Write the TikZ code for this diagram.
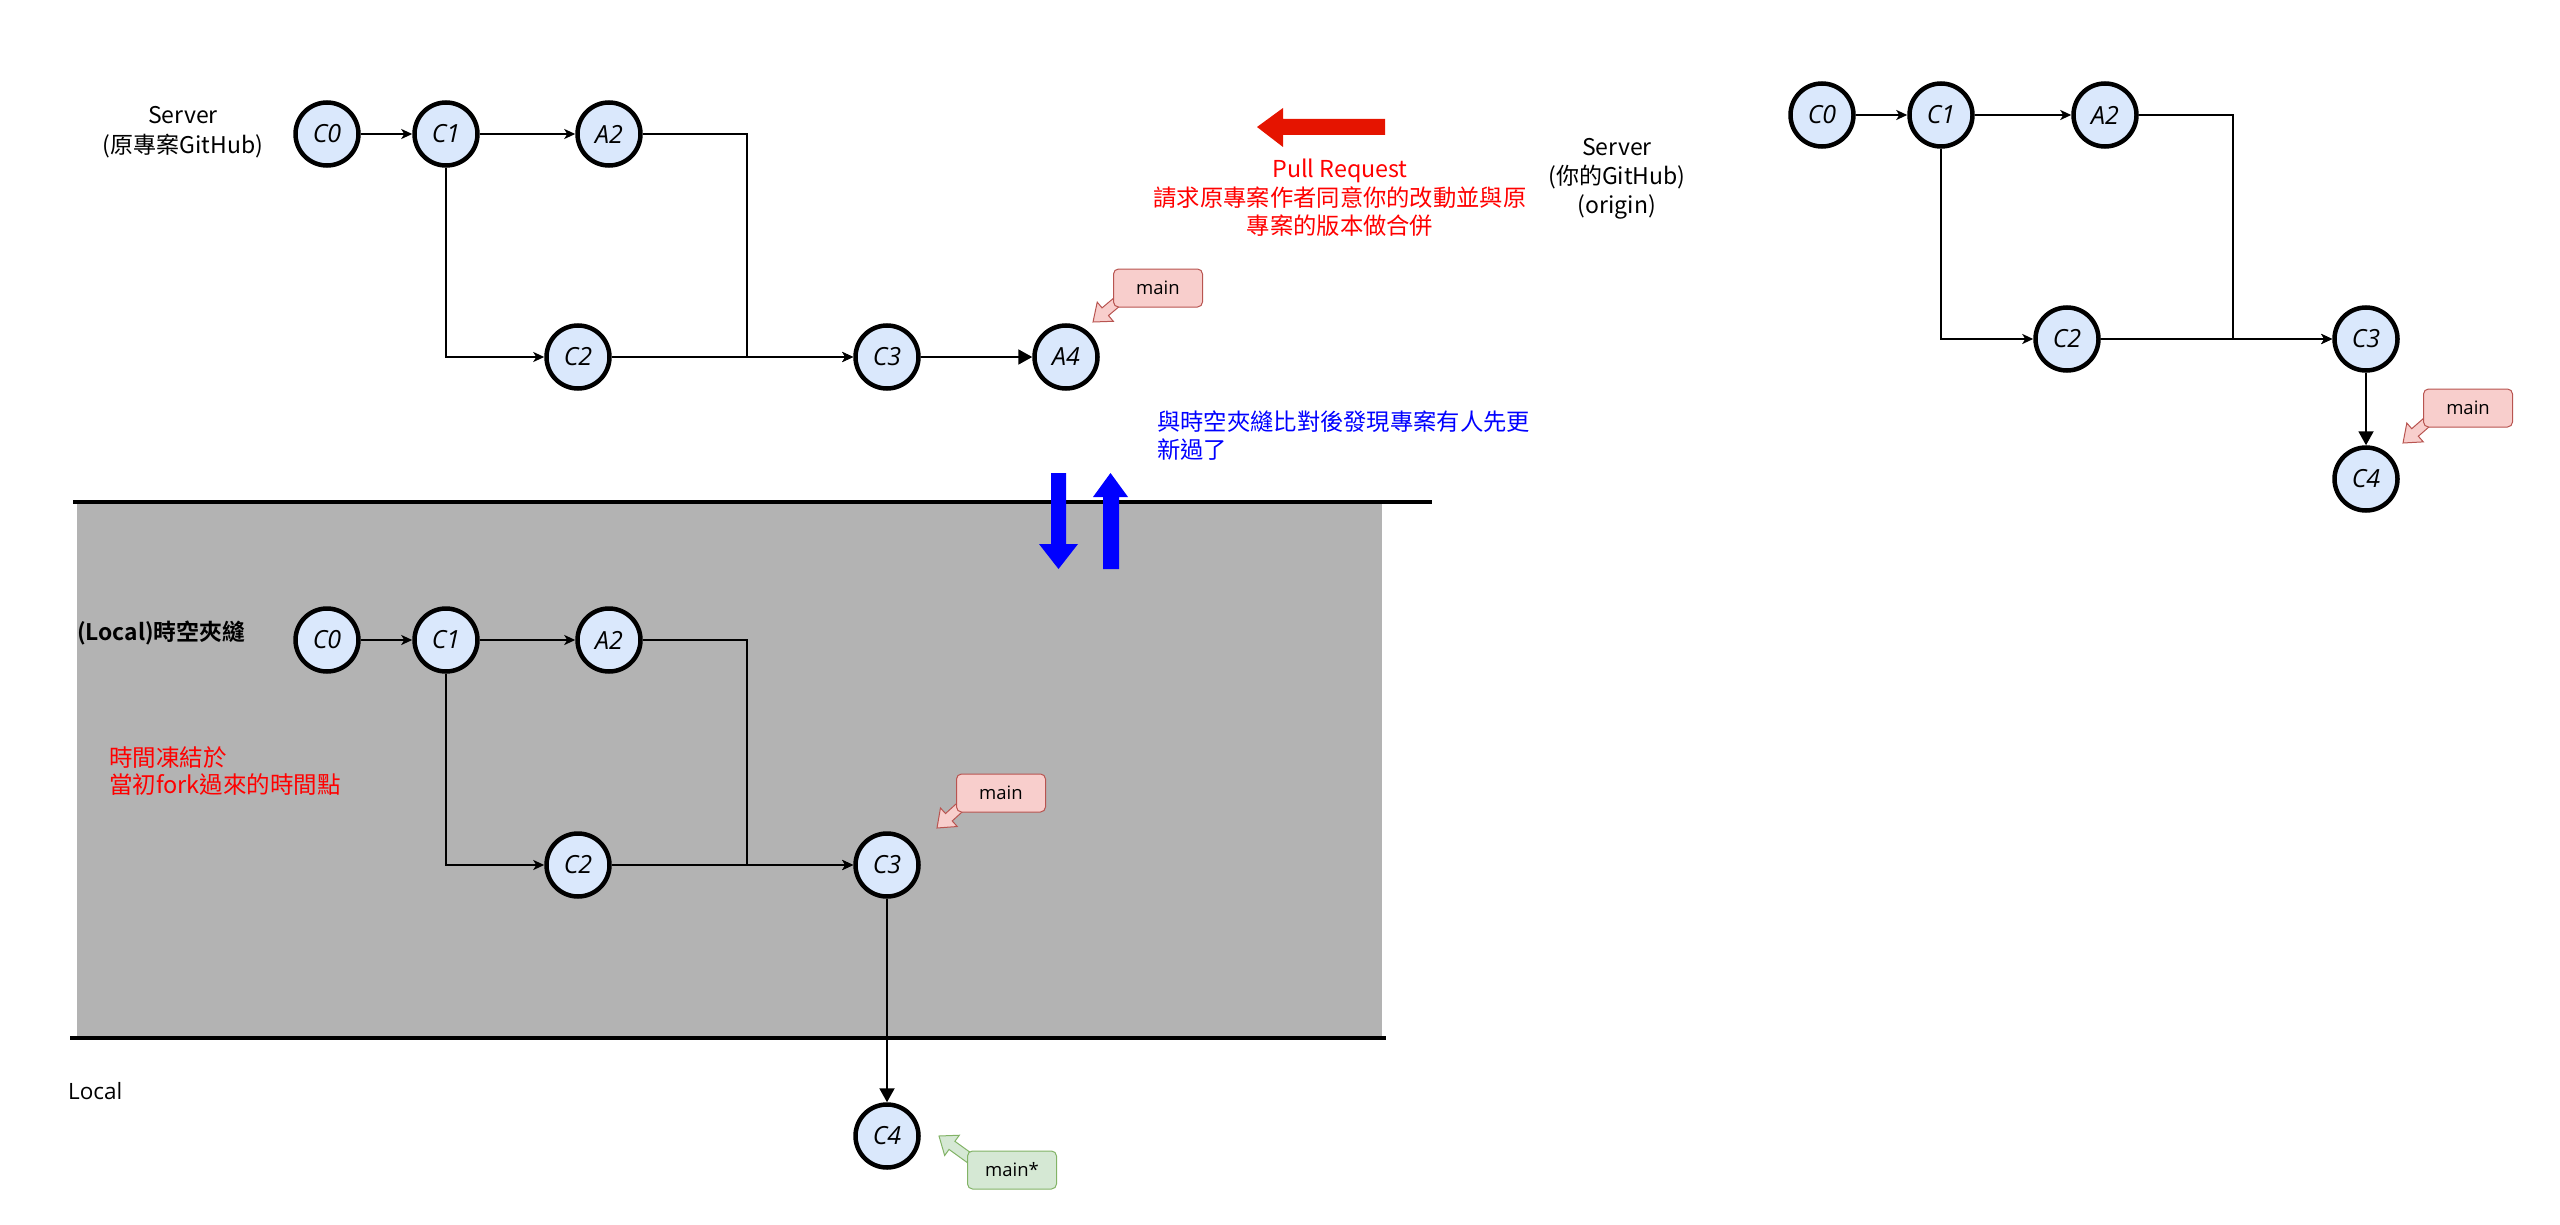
\documentclass[tikz,border=0pt]{standalone}
\usepackage{fontspec}
\setmainfont{Open Sans}
\newfontfamily\cjk{Noto Sans CJK TC}
\newfontfamily\cjkb{Noto Sans CJK TC Bold}
\usetikzlibrary{arrows.meta,calc}
\definecolor{commitfill}{HTML}{DAE8FC}
\definecolor{tagrfill}{HTML}{F8CECC}
\definecolor{tagrdraw}{HTML}{B85450}
\definecolor{taggfill}{HTML}{D5E8D4}
\definecolor{taggdraw}{HTML}{82B366}
\definecolor{boxgray}{HTML}{B3B3B3}
\definecolor{prred}{HTML}{E51400}
\definecolor{txtred}{HTML}{FF0000}
\definecolor{txtblue}{HTML}{0000FF}
\pgfdeclarelayer{back}
\pgfdeclarelayer{bg}
\pgfsetlayers{back,bg,main}
\newcommand\tagarrow[4]{%
  \path (#1) coordinate (ta-s) (#2) coordinate (ta-t);
  \path ($(ta-t)!16pt!(ta-s)$) coordinate (ta-h);
  \filldraw[fill=#3,draw=#4,line width=1pt,line join=miter]
    ($(ta-s)!5pt!90:(ta-t)$) -- ($(ta-h)!5pt!-90:(ta-s)$) --
    ($(ta-h)!12.5pt!-90:(ta-s)$) -- (ta-t) --
    ($(ta-h)!12.5pt!90:(ta-s)$) -- ($(ta-h)!5pt!90:(ta-s)$) --
    ($(ta-s)!5pt!-90:(ta-t)$) -- cycle;}
\tikzset{
  commit/.style={circle, draw=black, line width=4.5pt, fill=commitfill,
    minimum size=63pt, inner sep=0pt,
    font=\fontsize{25}{29}\selectfont\itshape},
  thinarrow/.style={draw=black, line width=2pt,
    -{Stealth[length=11pt,width=10pt,inset=3pt]}},
  blockarrow/.style={draw=black, line width=2pt,
    -{Triangle[length=14pt,width=15pt]}},
  tagbox/.style={rounded corners=5pt, line width=1pt,
    minimum width=89pt, minimum height=38pt, inner sep=0pt,
    font=\fontsize{18.5}{21}\selectfont},
  tagred/.style={tagbox, fill=tagrfill, draw=tagrdraw},
  taggreen/.style={tagbox, fill=taggfill, draw=taggdraw},
  label/.style={inner sep=0pt, align=center},
  sepline/.style={draw=black, line width=4.5pt}
}
\begin{document}
\begin{tikzpicture}[x=1pt,y=-1pt]
\path[use as bounding box] (0,0) rectangle (2560,1225);

% gray time-rift box and separator lines
\begin{pgfonlayer}{back}
  \fill[boxgray] (77,501) rectangle (1382,1037);
  \coordinate (topL) at (73,502);
  \coordinate (topR) at (1432,502);
  \coordinate (botL) at (70,1038);
  \coordinate (botR) at (1386,1038);
  \draw[sepline] (topL) -- (topR);
  \draw[sepline] (botL) -- (botR);
\end{pgfonlayer}

% ---------- top: server (original project) ----------
\node[commit] (uC0) at (327,134) {C0};
\node[commit] (uC1) at (446,134) {C1};
\node[commit] (uA2) at (609,134) {A2};
\node[commit] (uC2) at (578,357) {C2};
\node[commit] (uC3) at (887,357) {C3};
\node[commit] (uA4) at (1066,357) {A4};
\coordinate (uM) at (747,357);
\draw[thinarrow] (uC0) -- (uC1);
\draw[thinarrow] (uC1) -- (uA2);
\draw[thinarrow] (uC1.south) |- (uC2.west);
\draw[thinarrow] (uC2) -- (uC3);
\draw[thinarrow] (uA2.east) -| (uM) -- (uC3.west);
\draw[blockarrow] (uC3) -- (uA4);

\node[tagred] (uTag) at (1158,288) {main};
\coordinate (uTagTip) at (1093,322);
\begin{pgfonlayer}{bg}
  \tagarrow{$(uTag.south west)+(8,-9)$}{uTagTip}{tagrfill}{tagrdraw}
\end{pgfonlayer}

\node[label, font=\cjk\fontsize{23}{30}\selectfont] (uLbl) at (183,132)
  {Server\\(原專案GitHub)};

% ---------- pull request ----------
\fill[prred] (1257,127) -- (1283,108) -- (1283,119) -- (1385,119)
  -- (1385,135) -- (1283,135) -- (1283,147) -- cycle;
\node[label, text=txtred, font=\cjk\fontsize{23.3}{28.5}\selectfont] (prText) at (1340,198)
  {Pull Request\\請求原專案作者同意你的改動並與原\\專案的版本做合併};

\node[label, font=\cjk\fontsize{23}{29}\selectfont] (oLbl) at (1617,179)
  {Server\\(你的GitHub)\\(origin)};

% ---------- right: origin ----------
\node[commit] (oC0) at (1822,115) {C0};
\node[commit] (oC1) at (1941,115) {C1};
\node[commit] (oA2) at (2105,115) {A2};
\node[commit] (oC2) at (2067,339) {C2};
\node[commit] (oC3) at (2366,339) {C3};
\node[commit] (oC4) at (2366,479) {C4};
\coordinate (oM) at (2233,339);
\draw[thinarrow] (oC0) -- (oC1);
\draw[thinarrow] (oC1) -- (oA2);
\draw[thinarrow] (oC1.south) |- (oC2.west);
\draw[thinarrow] (oC2) -- (oC3);
\draw[thinarrow] (oA2.east) -| (oM) -- (oC3.west);
\draw[blockarrow] (oC3) -- (oC4);

\node[tagred] (oTag) at (2468,408) {main};
\coordinate (oTagTip) at (2403,443);
\begin{pgfonlayer}{bg}
  \tagarrow{$(oTag.south west)+(8,-9)$}{oTagTip}{tagrfill}{tagrdraw}
\end{pgfonlayer}

% ---------- compare text & blue arrows ----------
\node[label, anchor=west, align=left, text=txtblue,
  font=\cjk\fontsize{23.3}{28}\selectfont] (cmpText) at (1157,436)
  {與時空夾縫比對後發現專案有人先更\\新過了};
\fill[txtblue] (1051,473) -- (1066,473) -- (1066,544) -- (1078,544)
  -- (1058.5,569) -- (1039,544) -- (1051,544) -- cycle;
\fill[txtblue] (1103,569) -- (1119,569) -- (1119,497) -- (1128,497)
  -- (1110.5,473) -- (1093,497) -- (1103,497) -- cycle;

% ---------- local time rift ----------
\node[label, anchor=west, font=\cjkb\fontsize{22.8}{26}\selectfont] (rLbl) at (77,633)
  {(Local)時空夾縫};
\node[label, anchor=west, align=left, text=txtred,
  font=\cjk\fontsize{23.5}{27.5}\selectfont] (rNote) at (109,771)
  {時間凍結於\\當初fork過來的時間點};

\node[commit] (lC0) at (327,640) {C0};
\node[commit] (lC1) at (446,640) {C1};
\node[commit] (lA2) at (609,640) {A2};
\node[commit] (lC2) at (578,865) {C2};
\node[commit] (lC3) at (887,865) {C3};
\node[commit] (lC4) at (887,1136) {C4};
\coordinate (lM) at (747,865);
\draw[thinarrow] (lC0) -- (lC1);
\draw[thinarrow] (lC1) -- (lA2);
\draw[thinarrow] (lC1.south) |- (lC2.west);
\draw[thinarrow] (lC2) -- (lC3);
\draw[thinarrow] (lA2.east) -| (lM) -- (lC3.west);
\draw[blockarrow] (lC3) -- (lC4);

\node[tagred] (lTag) at (1001,793) {main};
\coordinate (lTagTip) at (937,828);
\begin{pgfonlayer}{bg}
  \tagarrow{$(lTag.south west)+(8,-9)$}{lTagTip}{tagrfill}{tagrdraw}
\end{pgfonlayer}

\node[taggreen] (gTag) at (1012,1170) {main*};
\coordinate (gTagTip) at (939,1136);
\begin{pgfonlayer}{bg}
  \tagarrow{$(gTag.west)+(8,-8)$}{gTagTip}{taggfill}{taggdraw}
\end{pgfonlayer}

\node[label, anchor=west, font=\fontsize{22.5}{26}\selectfont] (locLbl) at (68,1091) {Local};
\end{tikzpicture}
\end{document}
